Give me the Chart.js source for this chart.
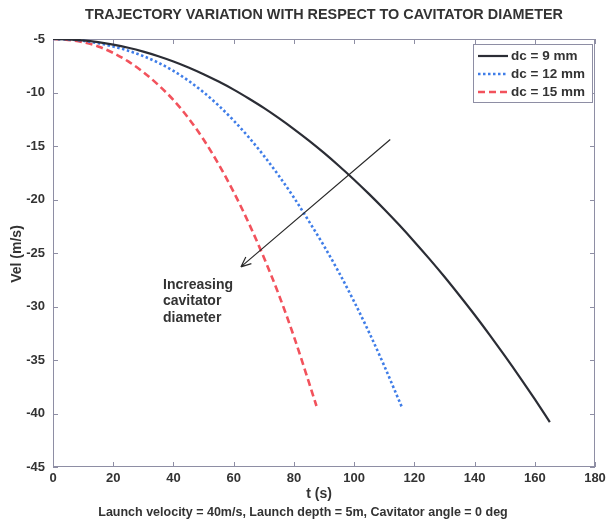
<!DOCTYPE html>
<html>
<head>
<meta charset="utf-8">
<script src="https://cdn.jsdelivr.net/npm/chart.js@4.4.1/dist/chart.umd.min.js"></script>
<style>
  html, body { margin: 0; padding: 0; background: #fff; }
  #wrap { width: 606px; height: 525px; }
</style>
</head>
<body>
<div id="wrap"><canvas id="myChart" width="606" height="525"></canvas></div>
<script>
// time samples (s) and velocity (m/s) for each cavitator diameter
const t9 = [0, 5, 10, 15, 20, 25, 30, 35, 40, 45, 50, 55, 60, 65, 70, 75, 80, 85, 90, 95, 100, 105, 110, 115, 120, 125, 130, 135, 140, 145, 150, 155, 160, 165];
const vel9 = [-5, -5.03, -5.13, -5.30, -5.53, -5.82, -6.18, -6.61, -7.10, -7.66, -8.29, -8.98, -9.73, -10.56, -11.44, -12.40, -13.42, -14.50, -15.65, -16.87, -18.15, -19.50, -20.91, -22.39, -23.94, -25.55, -27.22, -28.97, -30.77, -32.65, -34.59, -36.59, -38.66, -40.80];

const t12 = [0, 5, 10, 15, 20, 25, 30, 35, 40, 45, 50, 55, 60, 65, 70, 75, 80, 85, 90, 95, 100, 105, 110, 115, 116];
const vel12 = [-5, -5.04, -5.17, -5.39, -5.70, -6.10, -6.60, -7.22, -7.98, -8.90, -9.98, -11.22, -12.62, -14.18, -15.90, -17.78, -19.82, -22.04, -24.34, -26.84, -29.54, -32.44, -35.54, -38.84, -39.50];

const t15 = [0, 5, 10, 15, 20, 25, 30, 35, 40, 45, 50, 55, 60, 65, 70, 75, 80, 85, 87.5];
const vel15 = [-5, -5.08, -5.30, -5.70, -6.30, -7.10, -8.10, -9.30, -10.70, -12.40, -14.40, -16.70, -19.30, -22.20, -25.40, -28.90, -32.80, -37.10, -39.30];

const seriesNames = ["dc = 9 mm", "dc = 12 mm", "dc = 15 mm"];
const xTicks = [0, 20, 40, 60, 80, 100, 120, 140, 160, 180];
const yTicks = [-5, -10, -15, -20, -25, -30, -35, -40, -45];

// arrow: from (t, vel) to (t, vel)
const arrowFrom = [112, -14.4];
const arrowTo = [62.4, -26.3];
const noteLines = ["Increasing", "cavitator", "diameter"];

const FONT = "'Liberation Sans', Arial, sans-serif";
const INK = "#333333";
const AXIS = "#8e8ea4";

function toPoints(xs, ys) {
    return xs.map((x, i) => ({ x: x, y: ys[i] }));
}

// box, inward ticks, legend, texts
const decorations = {
    id: "decorations",
    beforeDatasetsDraw(chart) {
        const ctx = chart.ctx;
        const a = chart.chartArea;
        const xs = chart.scales.x, ys = chart.scales.y;
        ctx.save();
        ctx.strokeStyle = AXIS;
        ctx.lineWidth = 1;
        ctx.strokeRect(a.left + 0.5, a.top + 0.5, a.right - a.left - 1, a.bottom - a.top - 1);
        ctx.beginPath();
        xTicks.forEach(v => {
            const px = Math.round(xs.getPixelForValue(v)) + 0.5;
            ctx.moveTo(px, a.bottom); ctx.lineTo(px, a.bottom - 5);
            ctx.moveTo(px, a.top); ctx.lineTo(px, a.top + 5);
        });
        yTicks.forEach(v => {
            const py = Math.round(ys.getPixelForValue(v)) + 0.5;
            ctx.moveTo(a.left, py); ctx.lineTo(a.left + 5, py);
            ctx.moveTo(a.right, py); ctx.lineTo(a.right - 5, py);
        });
        ctx.stroke();
        ctx.restore();
    },
    afterDatasetsDraw(chart) {
        const ctx = chart.ctx;
        const a = chart.chartArea;
        const xs = chart.scales.x, ys = chart.scales.y;
        ctx.save();

        // arrow
        const x1 = xs.getPixelForValue(arrowFrom[0]), y1 = ys.getPixelForValue(arrowFrom[1]);
        const x2 = xs.getPixelForValue(arrowTo[0]), y2 = ys.getPixelForValue(arrowTo[1]);
        ctx.strokeStyle = "#2a2a2a";
        ctx.lineWidth = 1.2;
        ctx.beginPath();
        ctx.moveTo(x1, y1); ctx.lineTo(x2, y2);
        const ang = Math.atan2(y2 - y1, x2 - x1);
        ctx.moveTo(x2, y2); ctx.lineTo(x2 - 11 * Math.cos(ang - 0.4), y2 - 11 * Math.sin(ang - 0.4));
        ctx.moveTo(x2, y2); ctx.lineTo(x2 - 11 * Math.cos(ang + 0.4), y2 - 11 * Math.sin(ang + 0.4));
        ctx.stroke();

        ctx.fillStyle = INK;
        ctx.font = "bold 14px " + FONT;
        ctx.textAlign = "left";
        ctx.textBaseline = "middle";
        noteLines.forEach((s, i) => ctx.fillText(s, 163, 285 + i * 16.5));

        // legend
        const lx = 473, ly = 44, lw = 119, lh = 58;
        ctx.fillStyle = "#fff";
        ctx.fillRect(lx, ly, lw, lh);
        ctx.strokeStyle = AXIS;
        ctx.lineWidth = 1;
        ctx.strokeRect(lx + 0.5, ly + 0.5, lw, lh);
        chart.data.datasets.forEach((ds, i) => {
            const ry = 56 + i * 18;
            ctx.strokeStyle = ds.borderColor;
            ctx.lineWidth = ds.borderWidth;
            ctx.setLineDash(ds.borderDash || []);
            ctx.beginPath();
            ctx.moveTo(478, ry); ctx.lineTo(508, ry);
            ctx.stroke();
            ctx.setLineDash([]);
            ctx.fillStyle = INK;
            ctx.font = "bold 13.5px " + FONT;
            ctx.fillText(ds.label, 511, ry);
        });

        // title and axis labels
        const cx = (a.left + a.right) / 2;
        ctx.textAlign = "center";
        ctx.fillStyle = INK;
        ctx.font = "bold 14.4px " + FONT;
        ctx.fillText("TRAJECTORY VARIATION WITH RESPECT TO CAVITATOR DIAMETER", cx, 15);
        ctx.font = "bold 14px " + FONT;
        ctx.fillText("t (s)", cx - 5, 494);
        ctx.font = "bold 12.5px " + FONT;
        ctx.fillText("Launch velocity = 40m/s, Launch depth = 5m, Cavitator angle = 0 deg", cx - 21, 513);
        ctx.translate(17, 254);
        ctx.rotate(-Math.PI / 2);
        ctx.font = "bold 14px " + FONT;
        ctx.fillText("Vel (m/s)", 0, 0);
        ctx.restore();
    }
};

const ctx = document.getElementById("myChart").getContext("2d");

const datasets = [
    {
        label: seriesNames[0],
        data: toPoints(t9, vel9),
        borderColor: "#2b2d35",
        borderWidth: 2.2
    },
    {
        label: seriesNames[1],
        data: toPoints(t12, vel12),
        borderColor: "#3f7de8",
        borderWidth: 2.6,
        borderDash: [2.5, 2.5]
    },
    {
        label: seriesNames[2],
        data: toPoints(t15, vel15),
        borderColor: "#f2525c",
        borderWidth: 2.6,
        borderDash: [7, 4]
    }
];

const myChart = new Chart(ctx, {
    type: "line",
    data: { datasets },
    options: {
        responsive: false,
        animation: false,
        layout: { padding: { top: 39, right: 11, bottom: 0, left: 0 } },
        elements: {
            point: { radius: 0 },
            line: { cubicInterpolationMode: "monotone", fill: false }
        },
        plugins: {
            legend: { display: false },
            title: { display: false },
            tooltip: { enabled: false }
        },
        scales: {
            x: {
                type: "linear",
                min: 0,
                max: 180,
                afterFit: (s) => { s.height = 58; s.paddingLeft = 0; s.paddingRight = 0; },
                afterBuildTicks: (s) => { s.ticks = xTicks.map(v => ({ value: v })); },
                grid: { display: false, drawTicks: false },
                border: { display: false },
                ticks: {
                    padding: 4,
                    color: INK,
                    font: { family: FONT, size: 13, weight: "bold" },
                    maxRotation: 0
                }
            },
            y: {
                type: "linear",
                min: -45,
                max: -5,
                afterFit: (s) => { s.width = 53; s.paddingTop = 0; s.paddingBottom = 0; },
                afterBuildTicks: (s) => { s.ticks = yTicks.map(v => ({ value: v })); },
                grid: { display: false, drawTicks: false },
                border: { display: false },
                ticks: {
                    padding: 8,
                    color: INK,
                    font: { family: FONT, size: 13, weight: "bold" }
                }
            }
        }
    },
    plugins: [decorations]
});
</script>
</body>
</html>
